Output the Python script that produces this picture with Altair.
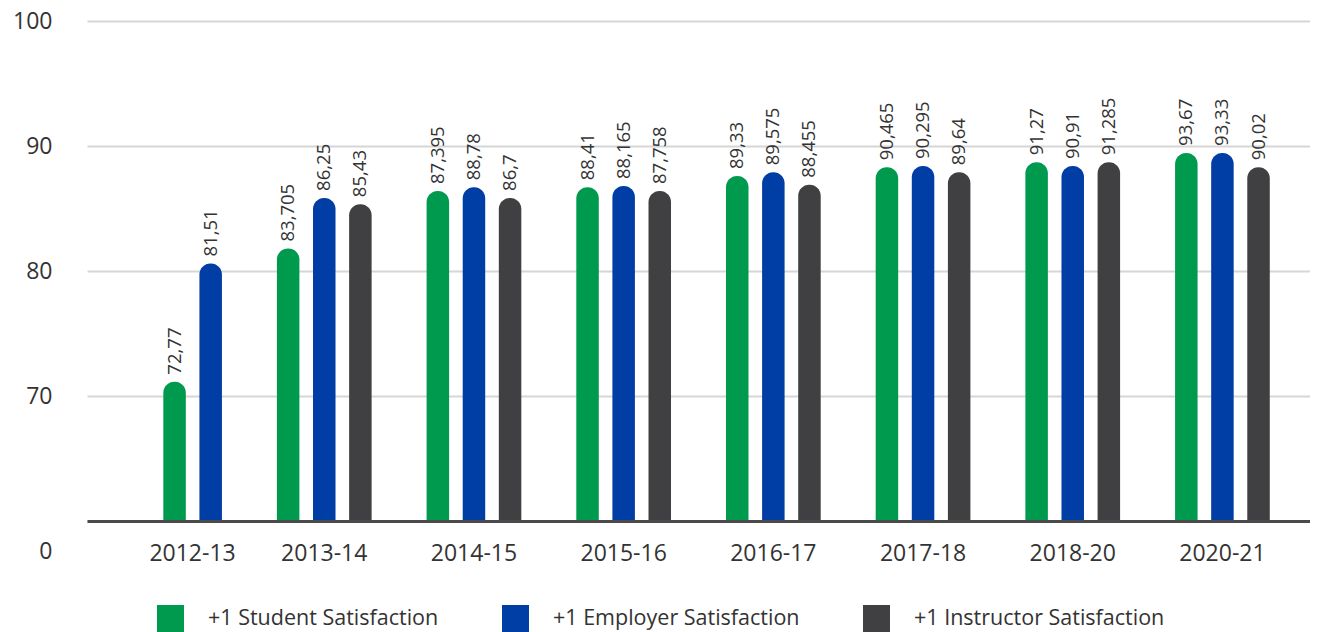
import altair as alt
import pandas as pd

# ---- data ----
categories = ["2012-13", "2013-14", "2014-15", "2015-16", "2016-17", "2017-18", "2018-20", "2020-21"]
series = ["+1 Student Satisfaction", "+1 Employer Satisfaction", "+1 Instructor Satisfaction"]
colors = ["#009a4e", "#003da5", "#404042"]

# bar heights as drawn
student_bar = [71.15, 81.8, 86.4, 86.7, 87.6, 88.3, 88.7, 89.45]
employer_bar = [80.6, 85.85, 86.7, 86.8, 87.9, 88.4, 88.4, 89.45]
instructor_bar = [None, 85.35, 85.85, 86.4, 86.9, 87.9, 88.7, 88.3]

# value labels printed above the bars
student_label = [72.77, 83.705, 87.395, 88.41, 89.33, 90.465, 91.27, 93.67]
employer_label = [81.51, 86.25, 88.78, 88.165, 89.575, 90.295, 90.91, 93.33]
instructor_label = [None, 85.43, 86.7, 87.758, 88.455, 89.64, 91.285, 90.02]

y_ticks = [60, 70, 80, 90, 100]

bars_by_series = [student_bar, employer_bar, instructor_bar]
labels_by_series = [student_label, employer_label, instructor_label]

rows = []
for ci, cat in enumerate(categories):
    present = [si for si in range(3) if bars_by_series[si][ci] is not None]
    missing = 3 - len(present)
    for si in present:
        lab = labels_by_series[si][ci]
        rows.append({
            "cat": cat,
            "series": series[si],
            # groups with a missing bar keep their bars in the right-hand slots
            "slot": si + missing,
            "bar": bars_by_series[si][ci],
            "label": str(lab).replace(".", ","),
        })
df = pd.DataFrame(rows)

FONT = "Open Sans"

x_enc = alt.X(
    "cat:N",
    sort=categories,
    scale=alt.Scale(domain=categories, paddingInner=0, paddingOuter=0.085),
    axis=alt.Axis(
        title=None,
        labelAngle=0,
        domain=True,
        domainColor="#4a4a4a",
        domainWidth=3,
        ticks=False,
        tickSize=0,
        grid=False,
        labelPadding=39,
        labelBaseline="alphabetic",
        labelFontSize=23,
        labelFont=FONT,
        labelColor="#333333",
        labelOffset=alt.condition("datum.value == '2012-13'", alt.value(18), alt.value(0)),
        zindex=1,
    ),
)
xoff_enc = alt.XOffset(
    "slot:O",
    scale=alt.Scale(domain=[0, 1, 2], paddingInner=0, paddingOuter=0.573),
)
y_enc = alt.Y(
    "bar:Q",
    scale=alt.Scale(domain=[60, 100], zero=False, nice=False),
    axis=alt.Axis(
        title=None,
        values=y_ticks,
        labelExpr="datum.value == 60 ? '0' : datum.label",
        labelOffset=alt.condition("datum.value == 60", alt.value(30.5), alt.value(0)),
        domain=False,
        ticks=False,
        tickSize=0,
        labelPadding=35,
        labelFontSize=23,
        labelFont=FONT,
        labelColor="#333333",
        gridColor="#d6d6d6",
        gridWidth=2,
    ),
)

bars = alt.Chart().mark_bar(
    width=22.5,
    cornerRadiusTopLeft=11,
    cornerRadiusTopRight=11,
).encode(
    x=x_enc,
    xOffset=xoff_enc,
    y=y_enc,
    y2=alt.Y2(datum=60),
    color=alt.Color(
        "series:N",
        scale=alt.Scale(domain=series, range=colors),
        legend=alt.Legend(
            title=None,
            orient="none",
            legendX=70,
            legendY=584,
            direction="horizontal",
            symbolType="square",
            symbolSize=729,
            symbolStrokeWidth=0,
            symbolOpacity=1,
            labelFontSize=21.5,
            labelFont=FONT,
            labelColor="#333333",
            labelOffset=24,
            labelLimit=0,
            columnPadding=63,
            padding=0,
        ),
    ),
)

texts = alt.Chart().mark_text(
    angle=270,
    align="left",
    baseline="middle",
    dx=7,
    fontSize=18.5,
    font=FONT,
    color="#333333",
).encode(
    x=alt.X("cat:N", sort=categories),
    xOffset=alt.XOffset("slot:O"),
    y=alt.Y("bar:Q"),
    text="label:N",
)

chart = alt.layer(bars, texts, data=df).properties(
    width=1223,
    height=500,
    autosize=alt.AutoSizeParams(type="none"),
    padding={"left": 79, "top": 13, "right": 0, "bottom": 111},
).configure(font=FONT).configure_view(stroke=None)

chart.save("out.html", embed_options={"renderer": "svg", "actions": False})
